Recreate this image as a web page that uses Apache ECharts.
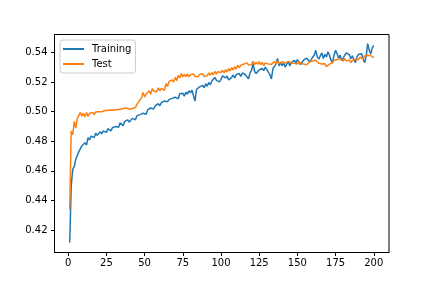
<!DOCTYPE html>
<html>
<head>
<meta charset="utf-8">
<script src="https://cdn.jsdelivr.net/npm/echarts@6/dist/echarts.min.js"></script>
<style>html,body{margin:0;padding:0;background:#fff}#c{width:432px;height:288px}</style>
</head>
<body>
<div id="c"></div>
<script>
const xTicks = [0, 25, 50, 75, 100, 125, 150, 175, 200];
const yTicks = [0.42, 0.44, 0.46, 0.48, 0.50, 0.52, 0.54];
const seriesNames = ['Training', 'Test'];
const training = [
0.4115,0.450,0.461,0.463,0.468,0.467,0.473,0.472,0.477,0.476,
0.479,0.4775,0.4825,0.481,0.4835,0.4830,0.4825,0.4855,0.4840,0.4848,
0.4865,0.4850,0.4870,0.4875,0.4860,0.4885,0.4880,0.4870,0.4892,0.4885,
0.4900,0.4910,0.4895,0.4925,0.4915,0.4905,0.4935,0.4930,0.4945,0.4930,
0.4940,0.4955,0.4950,0.4945,0.4972,0.4960,0.4980,0.4968,0.4990,0.5000,
0.4982,0.5012,0.5000,0.5025,0.5035,0.5018,0.5040,0.5032,0.5055,0.5040,
0.5062,0.5050,0.5072,0.5060,0.5068,0.5082,0.5070,0.5090,0.5078,0.5098,
0.5108,0.5088,0.5122,0.5112,0.5125,0.5105,0.5132,0.5118,0.5142,0.5128,
0.5145,0.5135,0.5072,0.5152,0.5140,0.5168,0.5155,0.5178,0.5162,0.5188,
0.5172,0.5198,0.5182,0.5208,0.5196,0.5232,0.5212,0.5222,0.5202,0.5218,
0.5242,0.5255,0.5228,0.5242,0.5215,0.5212,0.5232,0.5248,0.5228,0.5252,
0.5240,0.5258,0.5238,0.5262,0.5272,0.5250,0.5245,0.5222,0.5262,0.5280,
0.5325,0.5272,0.5258,0.5268,0.5282,0.5270,0.5292,0.5278,0.5302,0.5285,
0.5292,0.5250,0.5222,0.5292,0.5305,0.5322,0.5360,0.5310,0.5332,0.5312,
0.5328,0.5302,0.5322,0.5340,0.5310,0.5332,0.5325,0.5348,0.5330,0.5352,
0.5335,0.5318,0.5325,0.5348,0.5335,0.5362,0.5370,0.5338,0.5352,0.5368,
0.5382,0.5415,0.5372,0.5355,0.5378,0.5398,0.5360,0.5388,0.5370,0.5405,
0.5382,0.5348,0.5332,0.5382,0.5415,0.5392,0.5362,0.5382,0.5345,0.5362,
0.5382,0.5398,0.5405,0.5385,0.5358,0.5378,0.5350,0.5332,0.5372,0.5388,
0.5375,0.5392,0.5358,0.5332,0.5372,0.5460,0.5418,0.5390,0.5432,0.5448
];
const test = [
0.4337,0.487,0.4845,0.4935,0.4890,0.4955,0.4960,0.4995,0.4970,0.4990,
0.4965,0.4995,0.4970,0.4990,0.4980,0.4995,0.4980,0.4998,0.4985,0.5000,
0.4990,0.5000,0.4992,0.5008,0.4995,0.5008,0.4998,0.5012,0.5000,0.5010,
0.5005,0.5015,0.5003,0.5015,0.5008,0.5022,0.5010,0.5025,0.5012,0.5018,
0.5010,0.5022,0.5035,0.5028,0.5050,0.5063,0.5080,0.5095,0.5130,0.5100,
0.5120,0.5110,0.5142,0.5118,0.5155,0.5140,0.5150,0.5135,0.5162,0.5140,
0.5158,0.5168,0.5145,0.5190,0.5170,0.5205,0.5195,0.5215,0.5200,0.5232,
0.5210,0.5245,0.5228,0.5258,0.5235,0.5252,0.5238,0.5255,0.5236,0.5250,
0.5240,0.5255,0.5238,0.5248,0.5236,0.5252,0.5240,0.5256,0.5238,0.5250,
0.5244,0.5262,0.5245,0.5265,0.5250,0.5272,0.5255,0.5270,0.5258,0.5265,
0.5280,0.5262,0.5285,0.5268,0.5292,0.5275,0.5298,0.5282,0.5305,0.5288,
0.5315,0.5298,0.5315,0.5305,0.5322,0.5310,0.5330,0.5315,0.5328,0.5318,
0.5340,0.5318,0.5335,0.5320,0.5338,0.5318,0.5333,0.5312,0.5330,0.5338,
0.5322,0.5335,0.5320,0.5330,0.5340,0.5322,0.5342,0.5325,0.5318,0.5338,
0.5348,0.5328,0.5322,0.5340,0.5348,0.5330,0.5343,0.5328,0.5338,0.5322,
0.5342,0.5328,0.5338,0.5322,0.5335,0.5318,0.5328,0.5338,0.5325,0.5343,
0.5332,0.5348,0.5338,0.5328,0.5338,0.5322,0.5312,0.5325,0.5305,0.5315,
0.5322,0.5335,0.5330,0.5348,0.5338,0.5352,0.5342,0.5358,0.5348,0.5342,
0.5358,0.5342,0.5338,0.5352,0.5332,0.5348,0.5338,0.5355,0.5362,0.5352,
0.5368,0.5372,0.5358,0.5378,0.5368,0.5382,0.5370,0.5380,0.5368,0.5365
];
const epochs = training.map((_, i) => i + 1);

const font = 'DejaVu Sans';
const chart = echarts.init(document.getElementById('c'), null, {renderer: 'canvas'});
const axisCommon = {
  axisLine: {show: true, onZero: false, lineStyle: {color: '#000', width: 1}},
  axisTick: {show: true, inside: false, length: 3.5, lineStyle: {color: '#000', width: 1}},
  splitLine: {show: false},
};
chart.setOption({
  animation: false,
  backgroundColor: '#fff',
  grid: {left: 54.5, right: 43, top: 34.5, bottom: 35.5, show: true, borderColor: '#000', borderWidth: 1, backgroundColor: 'transparent'},
  legend: {
    data: seriesNames.map(n => ({name: n, icon: 'rect'})),
    orient: 'vertical', left: 60, top: 40,
    itemWidth: 21, itemHeight: 2, itemGap: 3,
    padding: [3, 4, 3, 3],
    backgroundColor: 'rgba(255,255,255,0.8)', borderColor: '#cccccc', borderWidth: 1, borderRadius: 3,
    textStyle: {fontFamily: font, fontSize: 10, color: '#000', lineHeight: 12, padding: [0, 0, 0, 3]}
  },
  xAxis: Object.assign({
    type: 'value', min: -8.95, max: 209.95,
    axisLabel: {customValues: xTicks, fontFamily: font, fontSize: 10, color: '#000', margin: 6}
  }, axisCommon, {axisTick: Object.assign({}, axisCommon.axisTick, {customValues: xTicks})}),
  yAxis: Object.assign({
    type: 'value', min: 0.4048, max: 0.5522,
    axisLabel: {customValues: yTicks, fontFamily: font, fontSize: 10, color: '#000', margin: 7, formatter: v => v.toFixed(2)}
  }, axisCommon, {axisTick: Object.assign({}, axisCommon.axisTick, {customValues: yTicks})}),
  series: [
    {name: seriesNames[0], type: 'line', showSymbol: false, symbol: 'none', color: '#1f77b4',
     lineStyle: {width: 1.5, color: '#1f77b4'}, data: epochs.map((e, i) => [e, training[i]])},
    {name: seriesNames[1], type: 'line', showSymbol: false, symbol: 'none', color: '#ff7f0e',
     lineStyle: {width: 1.5, color: '#ff7f0e'}, data: epochs.map((e, i) => [e, test[i]])}
  ]
});
</script>
</body>
</html>
